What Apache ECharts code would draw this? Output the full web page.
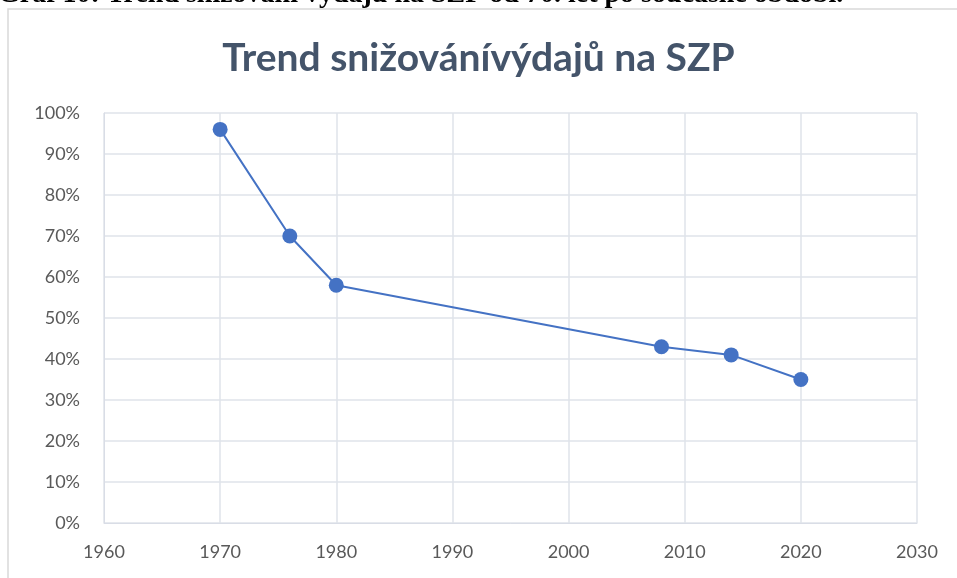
<!DOCTYPE html>
<html><head><meta charset="utf-8">
<script src="https://cdn.jsdelivr.net/npm/echarts@6/dist/echarts.min.js"></script>
<style>html,body{margin:0;padding:0;background:#fff}#c{width:957px;height:578px}</style>
</head><body><div id="c"></div>
<script>
const years = [1970, 1976, 1980, 2008, 2014, 2020];
const values = [0.96, 0.70, 0.58, 0.43, 0.41, 0.35];
const titleText = 'Trend snižovánívýdajů na SZP';
const captionText = 'Graf 10: Trend snižování výdajů na SZP od 70. let po současné období.';

const chart = echarts.init(document.getElementById('c'));
chart.setOption({
  backgroundColor: '#fff',
  animation: false,
  title: {
    text: titleText, left: 'center', top: 34,
    textStyle: {fontFamily: 'Lato', fontWeight: 'bold', fontSize: 39, color: '#44546a'}
  },
  graphic: [
    {type: 'rect', shape: {x: 8, y: 9, width: 960, height: 600}, style: {fill: 'none', stroke: '#d9d9d9', lineWidth: 1.5}, silent: true},
    {type: 'text', x: -2, y: 9, style: {text: captionText, font: 'bold 28px "Liberation Serif"', fill: '#000', verticalAlign: 'bottom'}, silent: true}
  ],
  grid: {left: 104, right: 40, top: 113, bottom: 55},
  xAxis: {
    type: 'value', min: 1960, max: 2030, interval: 10,
    axisLine: {show: true, lineStyle: {color: '#d9dde6'}},
    axisTick: {show: false},
    axisLabel: {color: '#595959', fontFamily: 'Lato', fontSize: 18, margin: 20, formatter: v => String(v)},
    splitLine: {show: true, lineStyle: {color: '#dfe3ea', width: 1.5}}
  },
  yAxis: {
    type: 'value', min: 0, max: 1, interval: 0.1,
    axisLine: {show: true, lineStyle: {color: '#d9dde6'}},
    axisTick: {show: false},
    axisLabel: {color: '#595959', fontFamily: 'Lato', fontSize: 18, margin: 24,
      formatter: v => Math.round(v * 100) + '%'},
    splitLine: {show: true, lineStyle: {color: '#dfe3ea', width: 1.5}}
  },
  series: [{
    type: 'line',
    data: years.map((y, i) => [y, values[i]]),
    symbol: 'circle', symbolSize: 15,
    lineStyle: {color: '#4472c4', width: 2},
    itemStyle: {color: '#4472c4'}
  }]
});
</script></body></html>
